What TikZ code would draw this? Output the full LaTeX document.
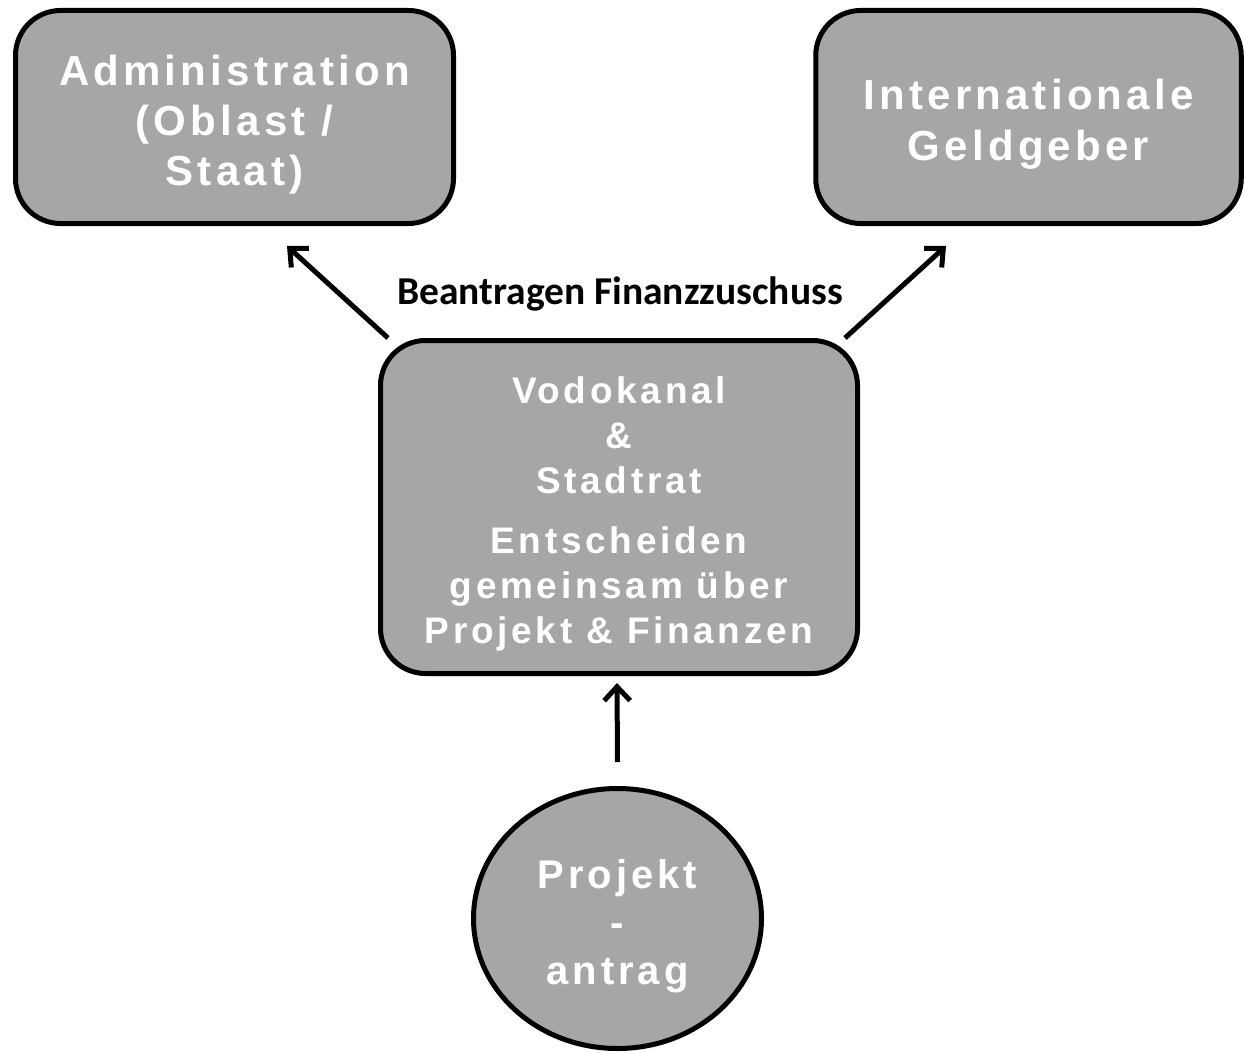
\documentclass[tikz,border=0pt]{standalone}
\usepackage{fontspec}
\usetikzlibrary{shapes.geometric,arrows.meta}
\newfontfamily\boxfont[LetterSpace=10]{Liberation Sans}
\newfontfamily\labelfont{Carlito}
\definecolor{boxgray}{HTML}{A6A6A6}
\newcommand{\toppad}[1]{\rule{0pt}{#1}}
\begin{document}
\begin{tikzpicture}[x=1pt,y=-1pt,
  gbox/.style={draw=black, line width=5pt, fill=boxgray, rounded corners=45pt,
    text=white, align=center, inner sep=0pt, font=\boxfont\bfseries},
  gcirc/.style={ellipse, draw=black, line width=5pt, fill=boxgray,
    text=white, align=center, inner sep=0pt, font=\boxfont\bfseries},
  arr/.style={line width=5pt, -{Straight Barb[length=14pt,width=26pt]}}
]
\useasboundingbox (0,0) rectangle (1244,1054);

\node[gbox, minimum width=438pt, minimum height=213pt,
  font=\boxfont\bfseries\fontsize{42}{50}\selectfont] (admin) at (234.5,117)
  {\toppad{45pt}Administration\\(Oblast /\\Staat)};

\node[gbox, minimum width=425.5pt, minimum height=213pt,
  font=\boxfont\bfseries\fontsize{42}{51}\selectfont] (intl) at (1028.5,117)
  {\toppad{45pt}Internationale\\Geldgeber};

\node[gbox, minimum width=477pt, minimum height=333pt,
  font=\boxfont\bfseries\fontsize{37}{45}\selectfont] (mid) at (619,507)
  {\toppad{41pt}Vodokanal\\\&\\Stadtrat\\[15pt]Entscheiden\\gemeinsam über\\Projekt \& Finanzen};

\node[gcirc, minimum width=288pt, minimum height=260pt,
  font=\boxfont\bfseries\fontsize{40}{48}\selectfont] (antrag) at (617.5,918.5)
  {\toppad{45pt}Projekt\\-\\antrag};

\node[font=\labelfont\bfseries\fontsize{39.5}{46}\selectfont, inner sep=0pt] (lbl) at (620,294)
  {Beantragen Finanzzuschuss};

\draw[arr] ([xshift=10pt]mid.north west) -- ([xshift=52.5pt,yshift=-20pt]admin.south);
\draw[arr] ([xshift=-15pt]mid.north east) -- ([xshift=-82.5pt,yshift=-20pt]intl.south);
\draw[arr] ([yshift=24pt]antrag.north) -- ([xshift=-2pt,yshift=-7pt]mid.south);
\end{tikzpicture}
\end{document}
